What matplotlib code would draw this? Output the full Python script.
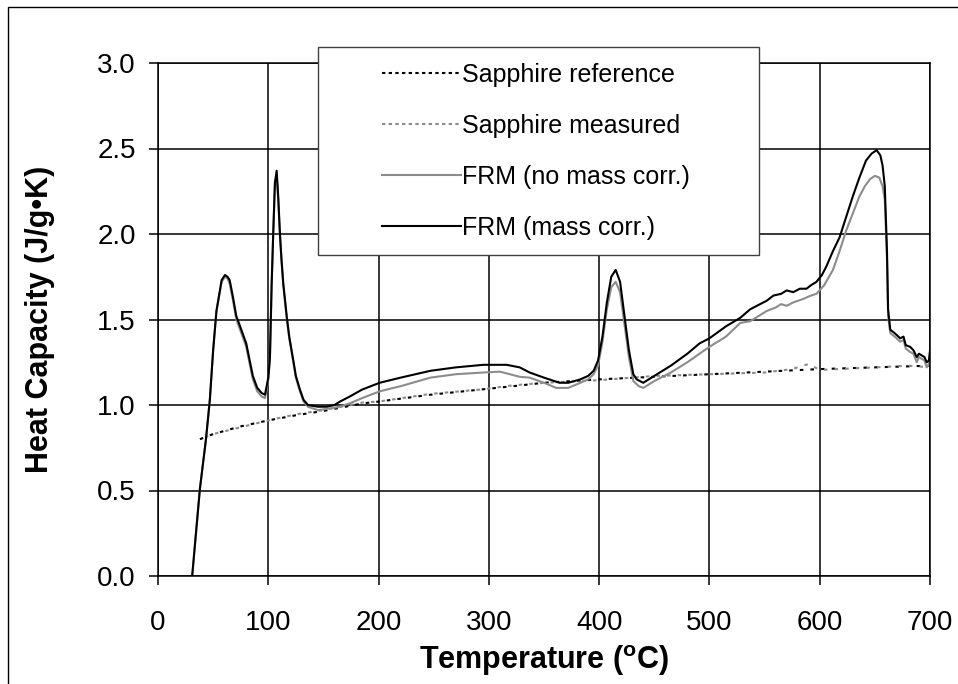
"""Heat capacity of FRM vs. sapphire reference."""

import numpy as np
import matplotlib

matplotlib.use("Agg")
import matplotlib.pyplot as plt
from matplotlib.patches import Rectangle
from matplotlib.lines import Line2D

plt.rcParams["font.family"] = ["Liberation Sans", "DejaVu Sans"]
plt.rcParams["mathtext.default"] = "regular"

# (temperature degC, heat capacity J/g K)
SAPPHIRE_REF = [
    (38, 0.80), (50, 0.83), (75, 0.875), (100, 0.91), (125, 0.94),
    (150, 0.965), (186, 1.01), (200, 1.02), (247, 1.06), (292, 1.09),
    (322, 1.11), (350, 1.13), (400, 1.15), (450, 1.165), (500, 1.18),
    (550, 1.195), (600, 1.21), (650, 1.22), (700, 1.23),
]
SAPPHIRE_MEAS = [
    (38, 0.80), (50, 0.83), (75, 0.87), (100, 0.91), (125, 0.945),
    (150, 0.97), (186, 1.015), (200, 1.02), (247, 1.065), (292, 1.09),
    (322, 1.115), (350, 1.13), (400, 1.145), (450, 1.17), (500, 1.18),
    (550, 1.19), (575, 1.21), (590, 1.24), (600, 1.205), (650, 1.22),
    (680, 1.23), (700, 1.22),
]
FRM_NO_CORR = [
    (31, 0.0), (34, 0.22), (38, 0.51), (43.5, 0.80), (47, 1.03), (50, 1.32),
    (53, 1.55), (57.7, 1.72), (60.7, 1.75), (63, 1.74), (65, 1.71), (68, 1.61),
    (71, 1.50), (75, 1.43), (80, 1.34), (86, 1.15), (90, 1.08), (94, 1.05),
    (97, 1.04), (98.5, 1.09), (100, 1.15), (101.5, 1.27), (103, 1.68),
    (104.5, 2.00), (106, 2.28), (107.6, 2.34), (109, 2.20), (110.6, 1.98),
    (112, 1.84), (113.6, 1.70), (116.7, 1.51), (119, 1.39), (122.7, 1.25),
    (125, 1.16), (128.7, 1.08), (132, 1.02), (136, 0.99), (145, 0.97),
    (156, 0.98), (165, 0.99), (174, 1.01), (185, 1.04), (201, 1.08),
    (220, 1.11), (247, 1.16), (270, 1.18), (295, 1.19), (310, 1.195),
    (328, 1.165), (337, 1.16), (350, 1.13), (361, 1.10), (372, 1.10),
    (383, 1.13), (390, 1.15), (395, 1.18), (399, 1.23), (403, 1.37),
    (407, 1.56), (411, 1.69), (415, 1.72), (419, 1.66), (423, 1.47),
    (427, 1.28), (431, 1.14), (436, 1.11), (440, 1.10), (450, 1.14),
    (465, 1.19), (480, 1.25), (491, 1.30), (500, 1.34), (515, 1.40),
    (528, 1.48), (537, 1.49), (552, 1.55), (560, 1.57), (565, 1.59),
    (570, 1.58), (576, 1.60), (585, 1.62), (592, 1.64), (597, 1.65),
    (604, 1.70), (612, 1.79), (618, 1.90), (624, 2.02), (630, 2.12),
    (636, 2.22), (641, 2.28), (645.5, 2.32), (650, 2.34), (654, 2.33),
    (657, 2.28), (659, 2.20), (661, 1.85), (662, 1.52), (664, 1.42),
    (668, 1.40), (673, 1.37), (676, 1.38), (678, 1.33), (682, 1.31),
    (685, 1.30), (688, 1.25), (690, 1.28), (695, 1.26), (697, 1.22),
    (699, 1.24), (700, 1.29),
]
FRM_MASS_CORR = [
    (31, 0.0), (34, 0.22), (38, 0.51), (43.5, 0.80), (47, 1.03), (50, 1.32),
    (53, 1.55), (57.7, 1.73), (60.7, 1.76), (63, 1.75), (65, 1.73), (68, 1.63),
    (71, 1.52), (75, 1.45), (80, 1.36), (86, 1.17), (90, 1.10), (94, 1.07),
    (97, 1.06), (98.5, 1.11), (100, 1.16), (101.5, 1.28), (103, 1.70),
    (104.5, 2.01), (106, 2.30), (107.6, 2.37), (109, 2.22), (110.6, 2.00),
    (112, 1.85), (113.6, 1.71), (116.7, 1.52), (119, 1.40), (122.7, 1.26),
    (125, 1.17), (128.7, 1.09), (132, 1.03), (136, 1.00), (145, 0.99),
    (153, 0.99), (160, 1.00), (165, 1.02), (174, 1.05), (185, 1.09),
    (201, 1.13), (220, 1.16), (247, 1.20), (270, 1.22), (295, 1.235),
    (316, 1.235), (328, 1.22), (337, 1.19), (350, 1.16), (364, 1.13),
    (372, 1.13), (383, 1.15), (390, 1.17), (395, 1.20), (399, 1.26),
    (403, 1.40), (407, 1.60), (411, 1.75), (415, 1.79), (419, 1.72),
    (423, 1.52), (427, 1.32), (431, 1.18), (434, 1.15), (440, 1.13),
    (450, 1.17), (465, 1.23), (480, 1.30), (491, 1.36), (500, 1.39),
    (515, 1.46), (528, 1.51), (537, 1.56), (552, 1.61), (558, 1.64),
    (565, 1.65), (570, 1.67), (576, 1.66), (582, 1.68), (588, 1.68),
    (592, 1.70), (597, 1.72), (602, 1.76), (606, 1.81), (612, 1.90),
    (618, 1.98), (624, 2.10), (630, 2.22), (636, 2.33), (642, 2.43),
    (647, 2.47), (651.6, 2.49), (655, 2.46), (657, 2.40), (659, 2.28),
    (661, 1.90), (662, 1.56), (664, 1.44), (668, 1.42), (673, 1.39),
    (676, 1.40), (678, 1.35), (682, 1.34), (685, 1.32), (688, 1.28),
    (690, 1.30), (695, 1.28), (697, 1.25), (699, 1.26), (700, 1.32),
]

LABELS = [
    "Sapphire reference",
    "Sapphire measured",
    "FRM (no mass corr.)",
    "FRM (mass corr.)",
]
X_TICKS = [0, 100, 200, 300, 400, 500, 600, 700]
Y_TICKS = [0.0, 0.5, 1.0, 1.5, 2.0, 2.5, 3.0]

GRAY = "#8c8c8c"


def main() -> None:
    fig = plt.figure(figsize=(9.58, 6.84), dpi=100)
    ax = fig.add_axes([158 / 958, 1 - 576 / 684, 772 / 958, 513 / 684])

    styles = [
        dict(color="black", lw=1.5, linestyle=(0, (1.7, 3.4))),
        dict(color=GRAY, lw=1.5, linestyle=(2.5, (1.7, 3.4))),
        dict(color=GRAY, lw=1.5),
        dict(color="black", lw=1.5),
    ]
    series = [SAPPHIRE_REF, SAPPHIRE_MEAS, FRM_NO_CORR, FRM_MASS_CORR]
    for data, style in zip(series, styles):
        arr = np.array(data)
        ax.plot(arr[:, 0], arr[:, 1], **style)

    ax.set_xlim(0, 700)
    ax.set_ylim(0, 3.0)
    ax.set_xticks(X_TICKS)
    ax.set_yticks(Y_TICKS)
    ax.set_yticklabels([f"{v:.1f}" for v in Y_TICKS])
    ax.grid(True, color="black", lw=1.1)
    ax.set_axisbelow(True)
    for s in ax.spines.values():
        s.set_linewidth(1.1)
    ax.tick_params(direction="out", length=6.5, width=1.1, labelsize=20)
    ax.tick_params(axis="x", pad=18)
    ax.tick_params(axis="y", pad=9.5)

    ax.set_xlabel("Temperature ($^{o}$C)", fontsize=22, fontweight="bold", labelpad=5)
    ax.set_ylabel("Heat Capacity (J/g\u2022K)", fontsize=22, fontweight="bold", labelpad=30)

    # legend box (drawn by hand so it can be wider than its content)
    box = Rectangle((318 / 958, 1 - 255 / 684), 441 / 958, 208 / 684,
                    transform=fig.transFigure, facecolor="white",
                    edgecolor="#404040", lw=1.0, zorder=3)
    fig.add_artist(box)
    leg_styles = [
        dict(color="black", lw=1.5, dashes=(1.6, 1.6)),
        dict(color=GRAY, lw=1.5, dashes=(1.6, 1.6)),
        styles[2],
        styles[3],
    ]
    handles = [Line2D([], [], **st) for st in leg_styles]
    fig.legend(handles, LABELS, loc="upper left",
               bbox_to_anchor=(382 / 958, 1 - 63 / 684),
               frameon=False, fontsize=18, handlelength=3.15,
               handletextpad=0.05, labelspacing=1.08, borderpad=0,
               borderaxespad=0)

    # outer chart frame
    frame = Rectangle((8 / 958, -0.1), 1.2, 1.1 - 7 / 684,
                      transform=fig.transFigure, fill=False,
                      edgecolor="black", lw=1.0, zorder=0)
    fig.add_artist(frame)

    fig.savefig("out.png", dpi=100)


if __name__ == "__main__":
    main()
